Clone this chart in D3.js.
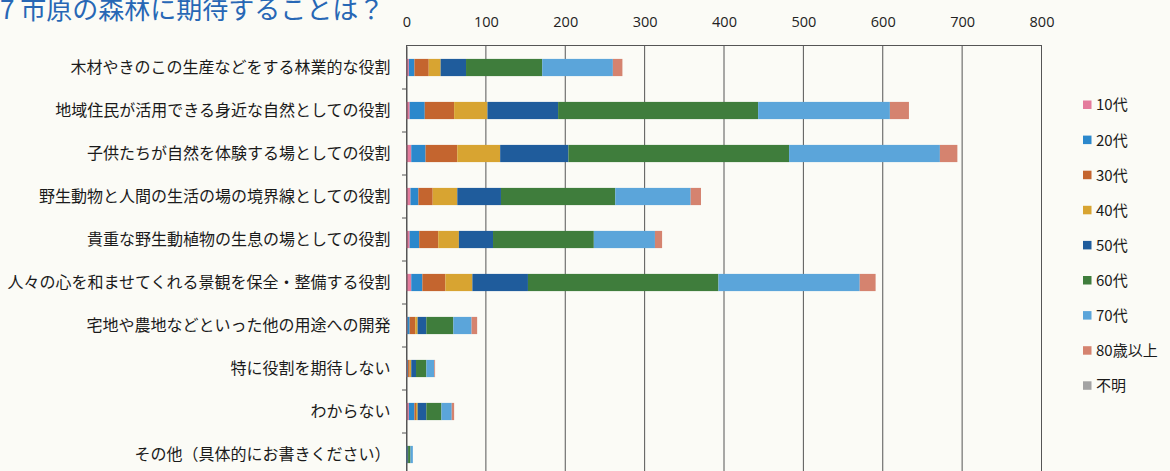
<!DOCTYPE html>
<html>
<head>
<meta charset="utf-8">
<script src="https://cdn.jsdelivr.net/npm/d3@7"></script>
<style>
  html, body { margin: 0; padding: 0; background: #fbfbf6; }
  svg { display: block; font-family: "Noto Sans CJK JP", "Noto Sans", sans-serif; }
</style>
</head>
<body>
<svg id="chart" width="1170" height="471"></svg>
<script>
// ---- data ----
const categories = [
  "木材やきのこの生産などをする林業的な役割",
  "地域住民が活用できる身近な自然としての役割",
  "子供たちが自然を体験する場としての役割",
  "野生動物と人間の生活の場の境界線としての役割",
  "貴重な野生動植物の生息の場としての役割",
  "人々の心を和ませてくれる景観を保全・整備する役割",
  "宅地や農地などといった他の用途への開発",
  "特に役割を期待しない",
  "わからない",
  "その他（具体的にお書きください）"
];
const seriesNames = ["10代", "20代", "30代", "40代", "50代", "60代", "70代", "80歳以上", "不明"];
const s10 = [3, 4, 6, 5, 4, 6, 1, 1, 3, 0];
const s20 = [7, 19, 18, 10, 12, 14, 3, 1, 7, 1];
const s30 = [18, 37, 40, 18, 24, 29, 7, 2, 2, 0];
const s40 = [15, 42, 54, 31, 26, 34, 3, 2, 2, 0];
const s50 = [32, 89, 86, 55, 43, 70, 11, 6, 11, 1];
const s60 = [96, 252, 278, 144, 127, 240, 34, 13, 19, 3];
const s70 = [89, 166, 190, 95, 77, 178, 23, 10, 13, 3];
const s80 = [12, 24, 22, 13, 9, 20, 7, 1, 3, 0];
const sUnknown = [0, 0, 0, 0, 0, 0, 0, 0, 0, 0];
const xTicks = [0, 100, 200, 300, 400, 500, 600, 700, 800];
const titleText = "7 市原の森林に期待することは？";

// ---- styles ----
const colors = ["#e47b9c", "#2b88cc", "#c4652f", "#d8a431", "#1f5c9c", "#3f7d3c", "#5ba5da", "#d5836f", "#a3a3a3"];

const seriesValues = [s10, s20, s30, s40, s50, s60, s70, s80, sUnknown];
const table = categories.map((c, i) => {
  const row = { cat: c };
  seriesNames.forEach((s, k) => row[s] = seriesValues[k][i]);
  return row;
});

const svg = d3.select("#chart");
const x = d3.scaleLinear().domain([0, 800]).range([406.5, 1041.5]);
const y = d3.scaleBand().domain(categories).range([46, 476]).paddingInner(0.6).paddingOuter(0.3);
const color = d3.scaleOrdinal().domain(seriesNames).range(colors);

// title (cut off at top like the reference)
svg.append("text").attr("x", 0).attr("y", 19)
  .attr("font-size", 26).attr("fill", "#2767b5").text(titleText);

// gridlines
svg.append("g").selectAll("line").data(xTicks).join("line")
  .attr("x1", d => x(d)).attr("x2", d => x(d))
  .attr("y1", 45).attr("y2", 471)
  .attr("stroke", "#555").attr("stroke-width", 1);

// top axis
const xAxis = d3.axisTop(x).tickValues(xTicks).tickSize(0).tickPadding(0).tickFormat(d3.format("d"));
const gx = svg.append("g").attr("transform", "translate(0,45)").call(xAxis);
gx.select(".domain").attr("stroke", "#555");
gx.selectAll("text").attr("font-family", "'Open Sans', 'Noto Sans', sans-serif")
  .attr("font-size", 14.5).attr("fill", "#222").attr("dy", "-18");

// stacked bars
const stack = d3.stack().keys(seriesNames);
const layers = stack(table);
svg.append("g").selectAll("g").data(layers).join("g")
  .attr("fill", d => color(d.key))
  .selectAll("rect").data(d => d).join("rect")
  .attr("x", d => x(d[0]))
  .attr("width", d => Math.max(0, x(d[1]) - x(d[0])))
  .attr("y", d => y(d.data.cat))
  .attr("height", y.bandwidth());

// left axis
const yAxis = d3.axisLeft(y).tickSize(0).tickPadding(16);
const gy = svg.append("g").attr("transform", "translate(406.5,0)").call(yAxis);
gy.select(".domain").attr("stroke", "#555");
gy.selectAll("text").attr("font-family", "'Noto Sans CJK JP', sans-serif")
  .attr("font-size", 16).attr("fill", "#1a1a1a");
// band-boundary tick marks
const step = y.step();
const bounds = categories.slice(1).map(c => y(c) - y.paddingInner() * step / 2);
svg.append("g").selectAll("line").data(bounds).join("line")
  .attr("x1", 402).attr("x2", 406.5)
  .attr("y1", d => d).attr("y2", d => d)
  .attr("stroke", "#555");

// legend
const lg = svg.append("g").selectAll("g").data(seriesNames).join("g")
  .attr("transform", (d, i) => `translate(1083,${105 + i * 35.1})`);
lg.append("rect").attr("x", 0).attr("y", -4.5).attr("width", 8.5).attr("height", 8.5)
  .attr("fill", d => color(d));
lg.append("text").attr("x", 13).attr("y", 0).attr("dy", "0.36em")
  .attr("font-size", 15).attr("fill", "#1a1a1a")
  .attr("font-family", "'Noto Sans CJK JP', sans-serif").text(d => d);
</script>
</body>
</html>
